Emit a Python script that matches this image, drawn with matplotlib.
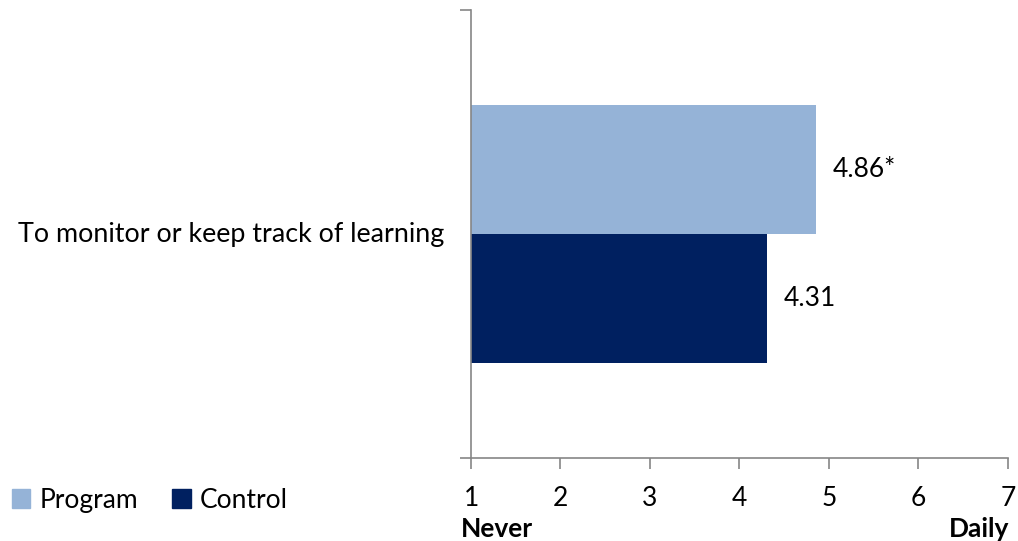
import matplotlib.pyplot as plt
from matplotlib.patches import Patch

plt.rcParams['font.family'] = ['Lato', 'DejaVu Sans']

category = 'To monitor or keep track of learning'
series = ['Program', 'Control']
values = [4.86, 4.31]
value_labels = ['4.86*', '4.31']
colors = ['#95B3D7', '#002060']
xticks = [1, 2, 3, 4, 5, 6, 7]

fs = 19

fig = plt.figure(figsize=(10.18, 5.41), dpi=100)
ax = fig.add_axes([0.4627, 0.1534, 0.990 - 0.4627, 0.9815 - 0.1534])

bar_h = 0.288
offsets = [bar_h / 2, -bar_h / 2]
for v, lab, c, off in zip(values, value_labels, colors, offsets):
    ax.barh(off, v - 1, left=1, height=bar_h, color=c)
    ax.text(v + 0.18, off, lab, va='center', ha='left', fontsize=fs)

ax.set_xlim(1, 7)
ax.set_ylim(-0.5, 0.5)
ax.set_xticks(xticks)
ax.set_xticklabels([str(t) for t in xticks], fontsize=fs)
ax.set_yticks([-0.5, 0.5])
ax.set_yticklabels(['', ''])
ax.tick_params(axis='both', colors='#868686', length=8, width=1.2, labelcolor='black')
ax.tick_params(axis='x', pad=12)
for s in ['top', 'right']:
    ax.spines[s].set_visible(False)
for s in ['left', 'bottom']:
    ax.spines[s].set_color('#868686')
    ax.spines[s].set_linewidth(1.2)

ax.text(-0.05, 0.5, category, transform=ax.transAxes, ha='right', va='center', fontsize=19.4)

ax.text(-0.019, -0.158, 'Never', transform=ax.transAxes, ha='left', va='center',
        fontsize=fs, fontweight='bold')
ax.text(1.003, -0.158, 'Daily', transform=ax.transAxes, ha='right', va='center',
        fontsize=fs, fontweight='bold')

handles = [Patch(color=c, label=s) for s, c in zip(series, colors)]
fig.legend(handles=handles, loc='center left', bbox_to_anchor=(-0.012, 0.075), ncol=2,
           frameon=False, fontsize=fs, handlelength=0.7, handleheight=0.7,
           handletextpad=0.35, columnspacing=1.3)

fig.savefig('out.png', dpi=100)
